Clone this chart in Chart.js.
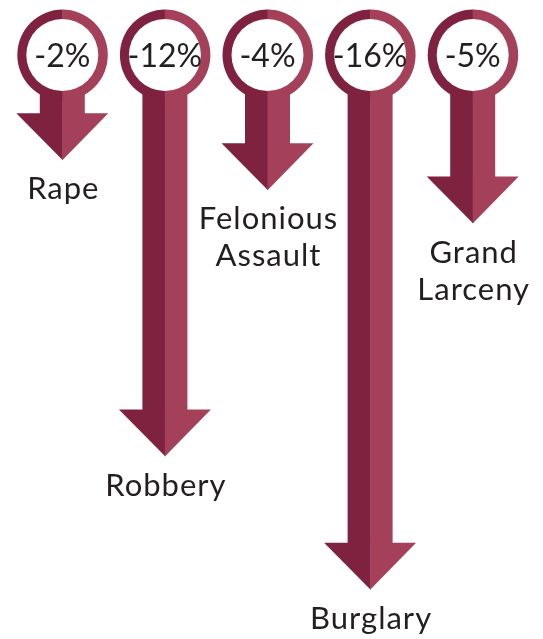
<!DOCTYPE html>
<html>
<head>
<meta charset="utf-8">
<script src="https://cdn.jsdelivr.net/npm/chart.js@4"></script>
<style>
html,body{margin:0;padding:0;background:#fff;}
#wrap{width:543px;height:639px;position:relative;}
</style>
</head>
<body>
<div id="wrap"><canvas id="c"></canvas></div>
<script>
// Data
const categories = [["Rape"], ["Robbery"], ["Felonious", "Assault"], ["Burglary"], ["Grand", "Larceny"]];
const changes = [-2, -12, -4, -16, -5];
const changeLabels = ["-2%", "-12%", "-4%", "-16%", "-5%"];
// arrows never get shorter than this so the head clears the ring
const MIN_DEPTH = -3.1;

const DARK = "#7e2240";
const LIGHT = "#a5405a";
const TEXT = "#231f20";
const FONT = "Lato, 'Open Sans', sans-serif";

const arrowPlugin = {
  id: "arrows",
  afterDatasetsDraw(chart) {
    const ctx = chart.ctx;
    const ys = chart.scales.y;
    const meta = chart.getDatasetMeta(0);
    const cy = ys.getPixelForValue(0) - 2;
    const stemHalf = 22.5, headHalf = 46, headH = 47;
    const rOut = 45.5, rIn = 36;
    ctx.save();
    meta.data.forEach((el, i) => {
      const x = el.x, tip = el.y;
      const headTop = tip - headH;
      // stem
      ctx.fillStyle = DARK;
      ctx.fillRect(x - stemHalf, cy, stemHalf + 0.5, headTop - cy + 1);
      ctx.fillStyle = LIGHT;
      ctx.fillRect(x, cy, stemHalf, headTop - cy + 1);
      // head
      ctx.fillStyle = DARK;
      ctx.beginPath();
      ctx.moveTo(x - headHalf, headTop);
      ctx.lineTo(x + 0.5, headTop);
      ctx.lineTo(x + 0.5, tip);
      ctx.closePath();
      ctx.fill();
      ctx.fillStyle = LIGHT;
      ctx.beginPath();
      ctx.moveTo(x, headTop);
      ctx.lineTo(x + headHalf, headTop);
      ctx.lineTo(x, tip);
      ctx.closePath();
      ctx.fill();
      // ring
      ctx.fillStyle = DARK;
      ctx.beginPath();
      ctx.moveTo(x + 0.5, cy);
      ctx.arc(x + 0.5, cy, rOut, Math.PI / 2, Math.PI * 1.5);
      ctx.closePath();
      ctx.fill();
      ctx.fillStyle = LIGHT;
      ctx.beginPath();
      ctx.moveTo(x, cy);
      ctx.arc(x, cy, rOut, -Math.PI / 2, Math.PI / 2);
      ctx.closePath();
      ctx.fill();
      ctx.fillStyle = "#fff";
      ctx.beginPath();
      ctx.arc(x, cy, rIn, 0, Math.PI * 2);
      ctx.fill();
      // value text
      ctx.fillStyle = TEXT;
      ctx.font = "32px " + FONT;
      ctx.textAlign = "center";
      ctx.textBaseline = "middle";
      ctx.letterSpacing = "0px";
      ctx.fillText(changeLabels[i], x, cy + 2);
      // category label
      ctx.font = "31px " + FONT;
      ctx.letterSpacing = "1px";
      ctx.textBaseline = "alphabetic";
      const lines = categories[i];
      lines.forEach((ln, j) => {
        ctx.fillText(ln, x + 1, tip + 39 + j * 37);
      });
    });
    ctx.restore();
  }
};

new Chart(document.getElementById("c"), {
  type: "bar",
  data: {
    labels: categories,
    datasets: [{
      data: changes.map(v => Math.min(v, MIN_DEPTH)),
      backgroundColor: "rgba(0,0,0,0)",
      borderWidth: 0
    }]
  },
  options: {
    responsive: true,
    maintainAspectRatio: false,
    animation: false,
    layout: { padding: { left: 11, right: 19, top: 0, bottom: 0 } },
    plugins: { legend: { display: false }, tooltip: { enabled: false } },
    scales: {
      x: { display: false },
      y: { display: false, min: -17.477, max: 1.712 }
    }
  },
  plugins: [arrowPlugin]
});
</script>
</body>
</html>
